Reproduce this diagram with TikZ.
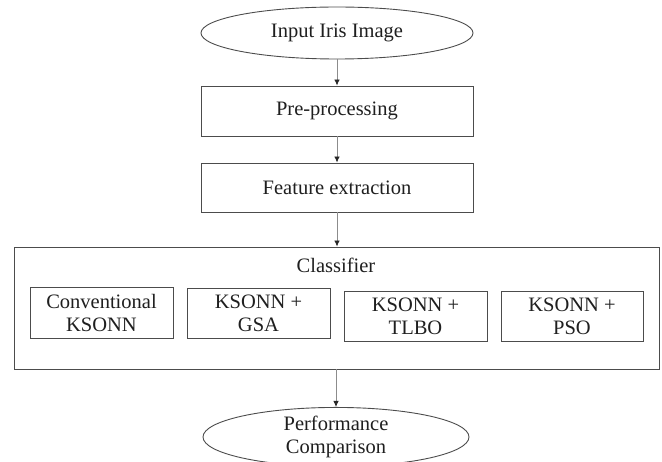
\documentclass[tikz,border=0pt]{standalone}
\usepackage{fontspec}
\setmainfont{Liberation Serif}
\usetikzlibrary{shapes.geometric,arrows.meta}
\begin{document}
\begin{tikzpicture}[x=1pt,y=-1pt,
  every node/.style={font=\fontsize{20.5}{23}\selectfont, text=black!88, inner sep=0pt, align=center},
  boxst/.style={draw=black!70, line width=0.9pt, rectangle},
  ellst/.style={draw=black!70, line width=0.9pt, ellipse},
  arr/.style={draw=black!45, line width=0.8pt, -{Latex[length=6pt,width=5.5pt,color=black!85]}}
]
\useasboundingbox (0,0) rectangle (662,462);
\node[ellst, minimum width=272pt, minimum height=52pt] (inp) at (337,33) {Input Iris Image};
\node[boxst, minimum width=272pt, minimum height=50pt] (pre) at (337,111) {Pre-processing};
\node[boxst, minimum width=272pt, minimum height=49pt] (feat) at (337,187.5) {Feature extraction};
\node[boxst, minimum width=645pt, minimum height=122pt] (cls) at (336.5,308) {};
\node (clsl) at (336,265) {Classifier};
\node[boxst, minimum width=143pt, minimum height=51pt] (conv) at (101.5,312.5) {Conventional\\KSONN};
\node[boxst, minimum width=143pt, minimum height=50pt] (gsa) at (258.5,313) {KSONN +\\GSA};
\node[boxst, minimum width=143pt, minimum height=50pt] (tlbo) at (415.5,316) {KSONN +\\TLBO};
\node[boxst, minimum width=142pt, minimum height=50pt] (pso) at (572,316) {KSONN +\\PSO};
\node[ellst, minimum width=266pt, minimum height=50pt] (perf) at (336,437) {Performance\\Comparison};
\draw[arr] (inp.south) -- (pre.north);
\draw[arr] (pre.south) -- (feat.north);
\draw[arr] (feat.south) -- (cls.north -| feat.south);
\draw[arr] (cls.south -| perf.north) -- (perf.north);
\end{tikzpicture}
\end{document}
